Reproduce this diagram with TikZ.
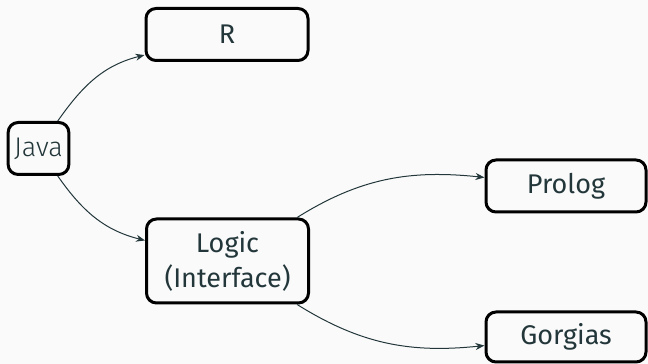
\documentclass[tikz,border=0pt]{standalone}
\usepackage{xcolor}
\usepackage{fontspec}
\usepackage{tikz}
\usetikzlibrary{arrows.meta}

\setsansfont{Fira Sans}
\IfFontExistsTF{Fira Sans Light}
  {\newfontfamily\lightfont{Fira Sans Light}}
  {\newfontfamily\lightfont{Fira Sans}}
\renewcommand{\familydefault}{\sfdefault}

\definecolor{darkteal}{HTML}{23373B}
\definecolor{paper}{HTML}{FAFAFA}

\begin{document}
\begin{tikzpicture}[x=1pt, y=1pt,
    box/.style={draw=black, line width=1.5pt, rounded corners=5pt,
      text=darkteal, align=center, inner sep=2pt,
      font=\fontsize{13.5}{17.5}\selectfont},
    wide/.style={box, minimum width=81pt, minimum height=26pt},
    link/.style={darkteal, line width=0.5pt, -{Stealth[length=4.5pt, width=3.5pt]}}]
        % page background
        \fill[paper] (0,0) rectangle (324,182);
        \useasboundingbox (0,0) rectangle (324,182);

        % the boxes
        \node[box, minimum width=29pt, minimum height=26pt, inner sep=3pt,
          font=\fontsize{13.5}{17.5}\lightfont] (java) at (19.25,107.75) {Java};
        \node[wide] (r) at (113.5,164.75) {R};
        \node[wide, minimum height=42pt] (logic) at (113.75,51.5) {Logic\\(Interface)};
        \node[wide, minimum width=80pt] (prolog) at (283,89) {Prolog};
        \node[wide, minimum width=80pt, minimum height=25pt] (gorgias) at (283,13.5) {Gorgias};

        % the links
        \draw[link] (java) to[out=55, in=194] (r);
        \draw[link] (java) to[out=-55, in=166] (logic);
        \draw[link] (logic) to[out=32, in=174] (prolog);
        \draw[link] (logic) to[out=-32, in=186] (gorgias);
      \end{tikzpicture}
\end{document}
